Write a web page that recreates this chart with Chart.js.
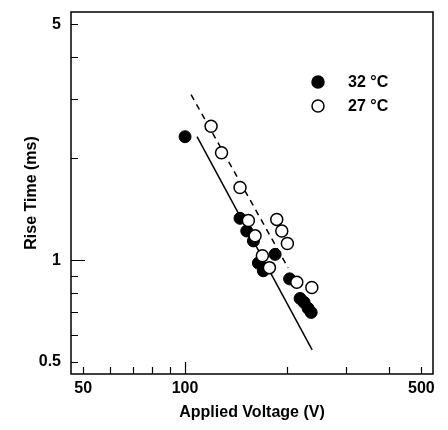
<!DOCTYPE html>
<html>
<head>
<meta charset="utf-8">
<script src="https://cdn.jsdelivr.net/npm/chart.js@4.4.1/dist/chart.umd.min.js"></script>
<style>
    html, body { margin: 0; padding: 0; background: #fff; }
    #wrap { width: 448px; height: 430px; }
</style>
</head>
<body>
<div id="wrap"><canvas id="riseChart" width="448" height="430"></canvas></div>
<script>
// applied voltage (V) / rise time (ms)
const hotVoltage = [100, 145.4, 152.2, 159.3, 164.8, 170.4, 184.6, 203.8, 218.9, 224.9, 231.1, 236];
const hotRise    = [2.32, 1.33, 1.22, 1.14, 0.98, 0.93, 1.04, 0.88, 0.77, 0.75, 0.72, 0.70];

const coolVoltage = [119.4, 128.2, 145.4, 153.9, 161.1, 186.7, 193.2, 200.7, 169.3, 177.6, 214, 237.1];
const coolRise    = [2.49, 2.08, 1.64, 1.31, 1.18, 1.32, 1.22, 1.12, 1.03, 0.95, 0.86, 0.83];

// fitted lines (end points)
const hotFitVoltage  = [108.5, 237.6];
const hotFitRise     = [2.32, 0.542];
const coolFitVoltage = [104.2, 201.7];
const coolFitRise    = [3.09, 0.949];

const xLabels = [50, 100, 500];
const yLabels = [0.5, 1, 5];
const xMinorTicks = [50, 60, 70, 80, 90, 100, 200, 300, 400, 500];
const yMinorTicks = [0.5, 0.6, 0.7, 0.8, 0.9, 1, 2, 3, 4, 5];

function toPoints(xs, ys) {
    return xs.map((x, i) => ({ x: x, y: ys[i] }));
}

const FONT = "'Liberation Sans', Arial, sans-serif";

// inward tick marks and the frame around the plot
const frameTicks = {
    id: 'frameTicks',
    afterDraw(chart) {
        const ctx = chart.ctx;
        const a = chart.chartArea;
        const xs = chart.scales.x;
        const ys = chart.scales.y;
        ctx.save();
        ctx.strokeStyle = '#000';
        ctx.lineWidth = 1.5;
        ctx.strokeRect(a.left, a.top, a.right - a.left, a.bottom - a.top);
        ctx.lineWidth = 1.2;
        ctx.beginPath();
        xMinorTicks.forEach(v => {
            const px = Math.round(xs.getPixelForValue(v)) + 0.5;
            const len = v === 100 ? 12 : 7;
            ctx.moveTo(px, a.bottom);
            ctx.lineTo(px, a.bottom - len);
        });
        yMinorTicks.forEach(v => {
            const py = Math.round(ys.getPixelForValue(v)) + 0.5;
            const len = v === 1 ? 14 : 7;
            ctx.moveTo(a.left, py);
            ctx.lineTo(a.left + len, py);
        });
        ctx.stroke();
        ctx.restore();
    }
};

// legend placed inside the plot, upper right
const innerLegend = {
    id: 'innerLegend',
    afterDraw(chart) {
        const ctx = chart.ctx;
        const items = chart.data.datasets.filter(d => d.label);
        ctx.save();
        ctx.font = 'bold 16px ' + FONT;
        ctx.textBaseline = 'middle';
        items.forEach((d, i) => {
            const cy = 82 + i * 24;
            ctx.beginPath();
            ctx.arc(318, cy, 6, 0, Math.PI * 2);
            ctx.fillStyle = d.backgroundColor;
            ctx.fill();
            ctx.lineWidth = 1.5;
            ctx.strokeStyle = '#000';
            ctx.stroke();
            ctx.fillStyle = '#000';
            ctx.fillText(d.label, 348, cy + 1);
        });
        ctx.restore();
    }
};

const ctx = document.getElementById('riseChart').getContext('2d');

new Chart(ctx, {
    type: 'scatter',
    data: {
        datasets: [
            {
                label: '32 °C',
                data: toPoints(hotVoltage, hotRise),
                backgroundColor: '#000',
                borderColor: '#000',
                borderWidth: 1,
                pointRadius: 6,
                order: 2
            },
            {
                label: '27 °C',
                data: toPoints(coolVoltage, coolRise),
                backgroundColor: '#fff',
                borderColor: '#000',
                borderWidth: 1.5,
                pointRadius: 6,
                order: 1
            },
            {
                data: toPoints(hotFitVoltage, hotFitRise),
                showLine: true,
                borderColor: '#000',
                borderWidth: 1.5,
                pointRadius: 0,
                order: 3
            },
            {
                data: toPoints(coolFitVoltage, coolFitRise),
                showLine: true,
                borderColor: '#000',
                borderWidth: 1.5,
                borderDash: [6, 5],
                pointRadius: 0,
                order: 3
            }
        ]
    },
    options: {
        responsive: false,
        animation: false,
        events: [],
        layout: { padding: { left: 0, right: 15, top: 12, bottom: 0 } },
        plugins: {
            legend: { display: false },
            tooltip: { enabled: false }
        },
        scales: {
            x: {
                type: 'logarithmic',
                min: 46,
                max: 541,
                afterBuildTicks: s => { s.ticks = xLabels.map(v => ({ value: v })); },
                afterFit: s => { s.height = 56; },
                grid: { display: false },
                border: { display: false },
                ticks: {
                    autoSkip: false,
                    maxRotation: 0,
                    padding: -3,
                    color: '#000',
                    font: { family: FONT, size: 16, weight: 'bold' },
                    callback: v => String(v)
                },
                title: {
                    display: true,
                    text: 'Applied Voltage (V)',
                    color: '#000',
                    font: { family: FONT, size: 16, weight: 'bold' },
                    padding: 8
                }
            },
            y: {
                type: 'logarithmic',
                min: 0.46,
                max: 5.43,
                afterBuildTicks: s => { s.ticks = yLabels.map(v => ({ value: v })); },
                afterFit: s => { s.width = 71; },
                grid: { display: false },
                border: { display: false },
                ticks: {
                    autoSkip: false,
                    padding: 2,
                    color: '#000',
                    font: { family: FONT, size: 16, weight: 'bold' },
                    callback: v => String(v)
                },
                title: {
                    display: true,
                    text: 'Rise Time (ms)',
                    color: '#000',
                    font: { family: FONT, size: 16, weight: 'bold' },
                    padding: 22
                }
            }
        }
    },
    plugins: [frameTicks, innerLegend]
});
</script>
</body>
</html>
